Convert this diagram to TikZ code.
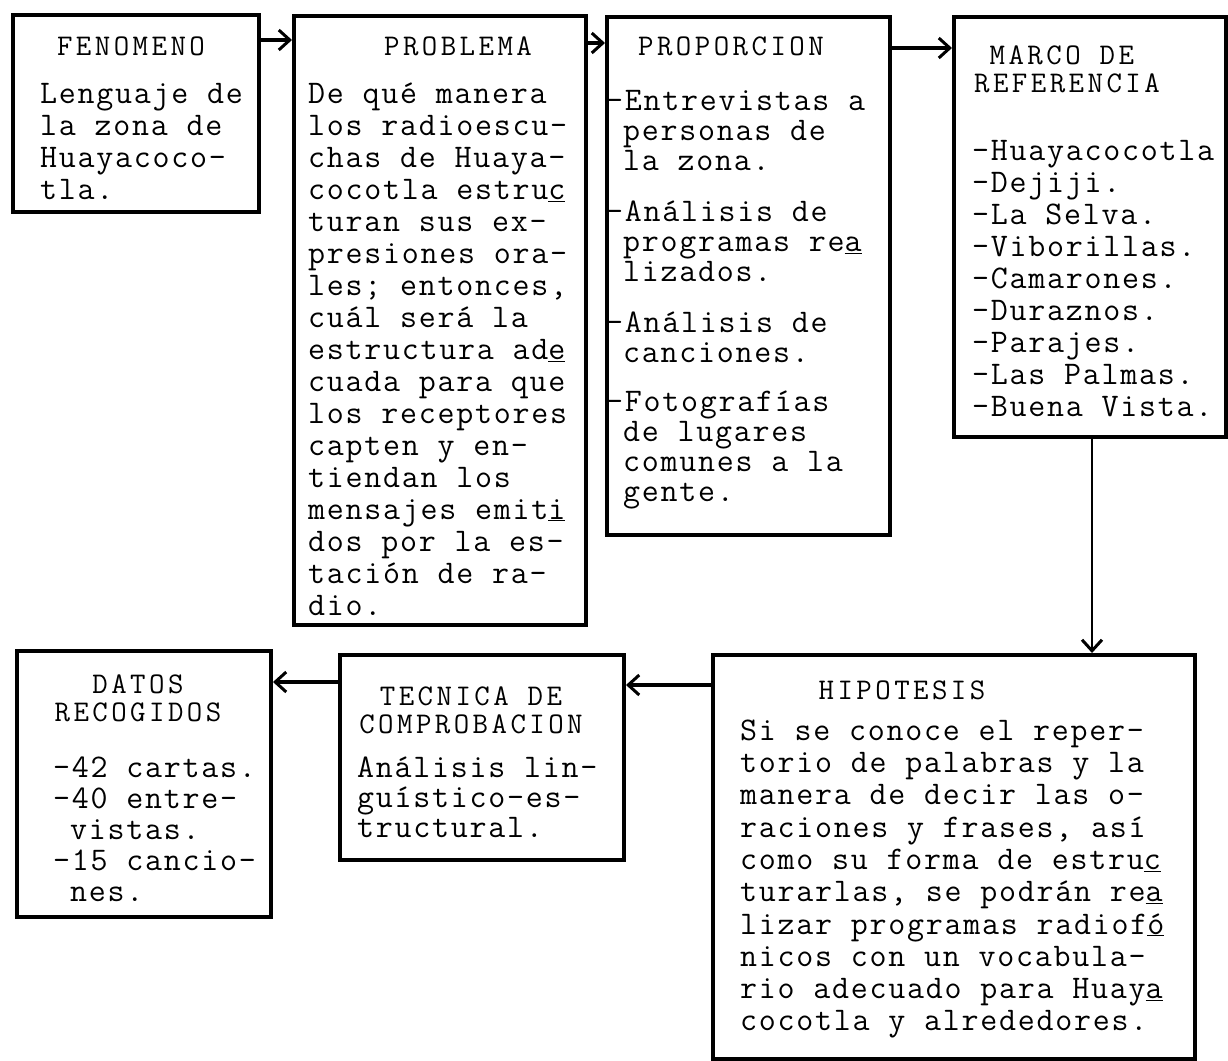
\documentclass[tikz,border=0pt]{standalone}
\usepackage{fontspec}
\newfontfamily\bodyf[LetterSpace=5.3]{Latin Modern Mono}
\newfontfamily\headf[LetterSpace=11.5]{Latin Modern Mono}
\usetikzlibrary{arrows.meta,calc}
\newcommand\bfont[1]{\bodyf\fontsize{33pt}{#1}\selectfont\lineskiplimit=-100pt\relax}
\newcommand\hfont{\headf\fontsize{30pt}{28pt}\selectfont\lineskiplimit=-100pt\relax}
\newcommand\fs{\rule{0pt}{30pt}}
\newcommand\hs{\rule{0pt}{25pt}}
\newcommand\ind{\hphantom{-}}
\tikzset{
  box/.style={draw, line width=4pt, inner sep=0pt, anchor=north west},
  head/.style={inner sep=0pt, font=\hfont},
  body/.style={inner sep=0pt, anchor=north west, align=left},
  arr/.style={line width=4pt, -{Straight Barb[length=11pt,width=20pt,line width=3pt]}},
  varr/.style={line width=2.5pt, -{Straight Barb[length=11pt,width=20pt,line width=3pt]}}
}
\begin{document}
\begin{tikzpicture}[x=1pt,y=-1pt]
\useasboundingbox (0,0) rectangle (1228,1060);
% boxes
\node[box, minimum width=246pt, minimum height=197pt] (fen) at (11,13) {};
\node[box, minimum width=292pt, minimum height=609pt] (prob) at (292,14) {};
\node[box, minimum width=283pt, minimum height=518pt] (prop) at (605,15) {};
\node[box, minimum width=272pt, minimum height=420pt] (marco) at (952,15) {};
\node[box, minimum width=482pt, minimum height=404pt] (hip) at (711,653) {};
\node[box, minimum width=284pt, minimum height=205pt] (tec) at (338,653) {};
\node[box, minimum width=254pt, minimum height=266pt] (dat) at (15,649) {};
% titles
\node[head, anchor=base] (fenH) at (131,55) {FENOMENO};
\node[head, anchor=base] (probH) at (458,55) {PROBLEMA};
\node[head, anchor=base west] (propH) at (638,55) {PROPORCION};
\node[head, anchor=north west, align=left] (marcoH) at (974,39) {\hs\hphantom{M}MARCO DE\\REFERENCIA};
\node[head, anchor=base] (hipH) at (902,699) {HIPOTESIS};
\node[head, anchor=north, align=center] (tecH) at (471,680) {\hs TECNICA DE\\COMPROBACION};
\node[head, anchor=north, align=center] (datH) at (138,668) {\hs DATOS\\RECOGIDOS};
% bodies
\node[body, font=\bfont{32pt}] (fenT) at (40,73) {\fs Lenguaje de\\la zona de\\Huayacoco-\\tla.};
\node[body, font=\bfont{32pt}] (probT) at (308,73) {\fs De qué manera\\los radioescu-\\chas de Huaya-\\cocotla estru\underline{c}\\turan sus ex-\\presiones ora-\\les; entonces,\\cuál será la\\estructura ad\underline{e}\\cuada para que\\los receptores\\capten y en-\\tiendan los\\mensajes emit\underline{i}\\dos por la es-\\tación de ra-\\dio.};
\node[body, font=\bfont{30pt}] (propT) at (606,80) {\fs -Entrevistas a\\\ind personas de\\\ind la zona.\\[21pt]-Análisis de\\\ind programas re\underline{a}\\\ind lizados.\\[21pt]-Análisis de\\\ind canciones.\\[19pt]-Fotografías\\\ind de lugares\\\ind comunes a la\\\ind gente.};
\node[body, font=\bfont{32pt}] (marcoT) at (972,130) {\fs -Huayacocotla\\-Dejiji.\\-La Selva.\\-Viborillas.\\-Camarones.\\-Duraznos.\\-Parajes.\\-Las Palmas.\\-Buena Vista.};
\node[body, font=\bfont{32.3pt}] (hipT) at (740,710) {\fs Si se conoce el reper-\\torio de palabras y la\\manera de decir las o-\\raciones y frases, así\\como su forma de estru\underline{c}\\turarlas, se podrán re\underline{a}\\lizar programas radiof\underline{ó}\\nicos con un vocabula-\\rio adecuado para Huay\underline{a}\\cocotla y alrededores.};
\node[body, font=\bfont{30pt}] (tecT) at (357,747) {\fs Análisis lin-\\guístico-es-\\tructural.};
\node[body, font=\bfont{31pt}] (datT) at (53,747) {\fs -42 cartas.\\-40 entre-\\\ind vistas.\\-15 cancio-\\\ind nes.};
% connectors
\draw[arr] ($(fen.north east)+(0,27)$) coordinate (a1) -- (a1 -| prob.west);
\draw[arr] ($(prob.north east)+(0,29)$) coordinate (a2) -- (a2 -| prop.west);
\draw[arr] ($(prop.north east)+(0,33)$) coordinate (a3) -- (a3 -| marco.west);
\draw[varr] ($(marco.south west)+(140,0)$) coordinate (a4) -- (a4 |- hip.north);
\draw[arr] ($(hip.north west)+(0,32)$) coordinate (a5) -- (a5 -| tec.east);
\draw[arr] ($(tec.north west)+(0,29)$) coordinate (a6) -- (a6 -| dat.east);
\end{tikzpicture}
\end{document}
